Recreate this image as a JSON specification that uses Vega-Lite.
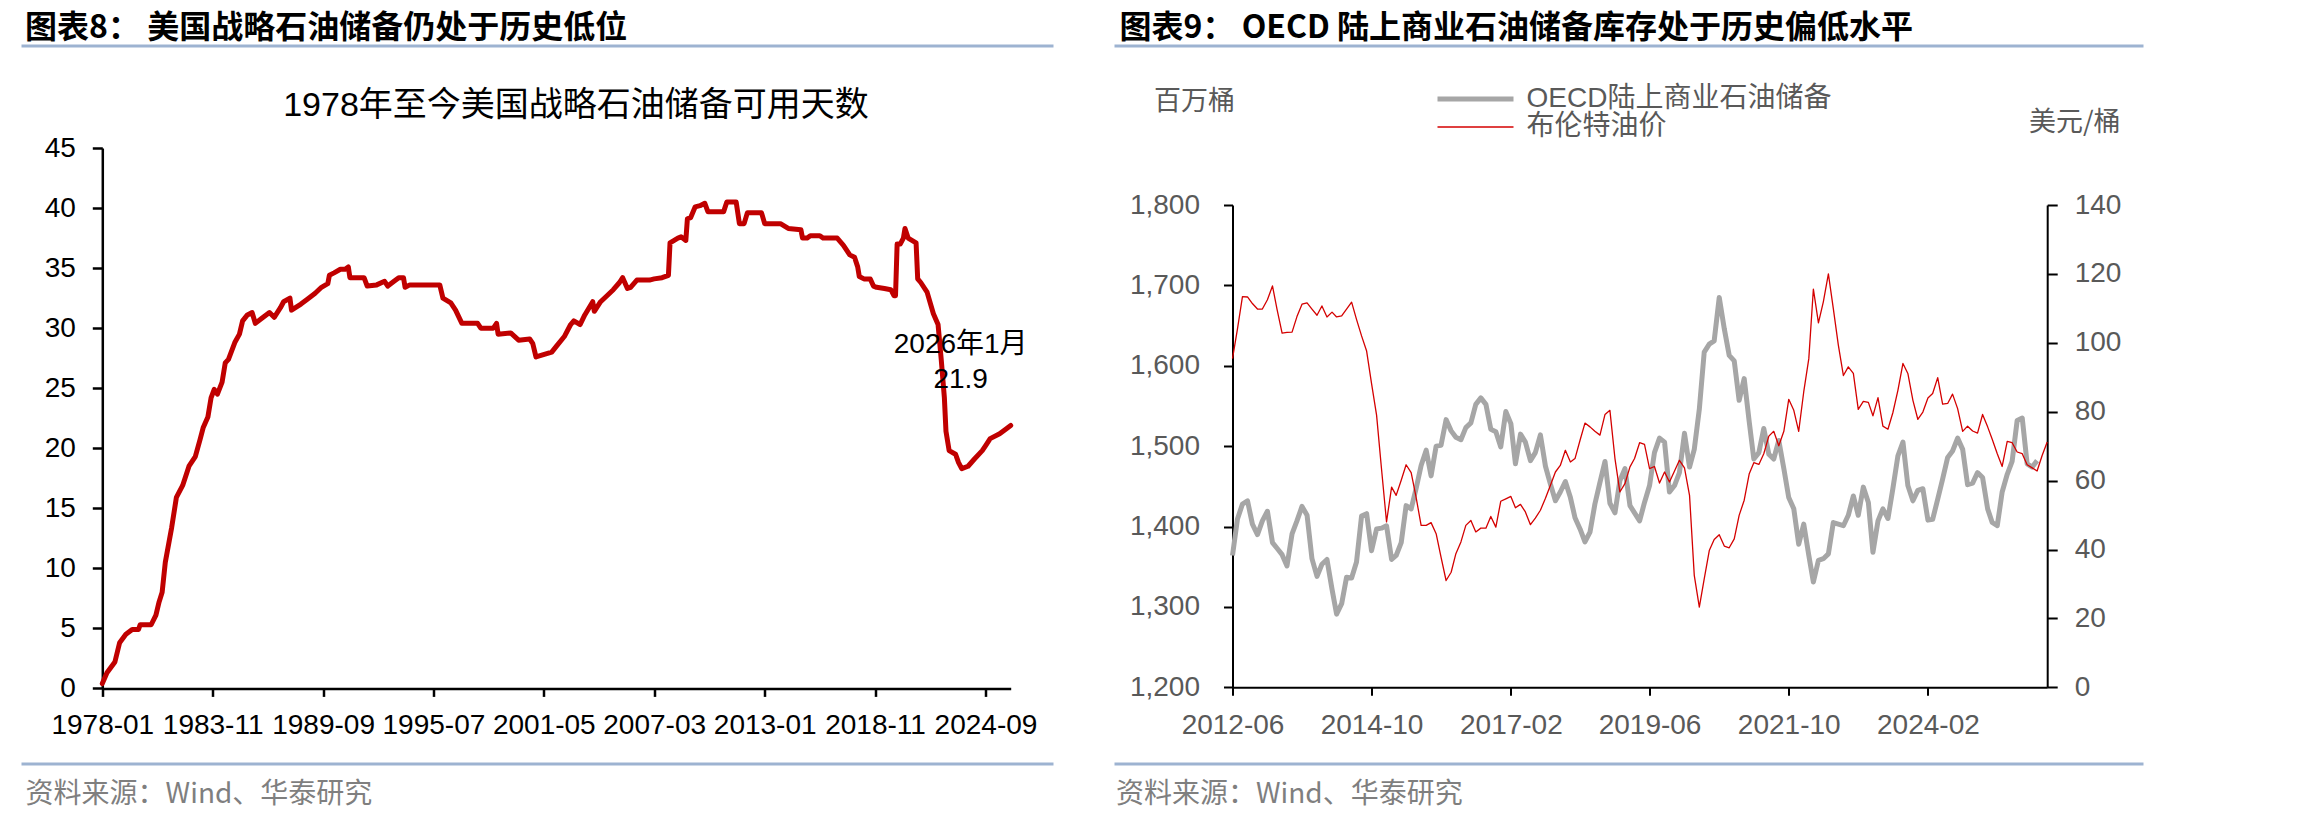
{
  "$schema": "https://vega.github.io/schema/vega-lite/v6.json",
  "background": "white",
  "padding": {"left": 19.5, "top": 10, "right": 5, "bottom": 5},
  "config": {
    "view": {"stroke": null},
    "font": "Liberation Sans, Noto Sans CJK SC, sans-serif",
    "axis": {"grid": false, "domainColor": "#000000", "tickColor": "#000000", "labelFont": "Liberation Sans, Noto Sans CJK SC", "labelFontSize": 28, "titleFontWeight": "normal"}
  },
  "datasets": {
    "spr": [
      {"date":"1978-01","days":0.4},{"date":"1978-04","days":1.3},{"date":"1978-09","days":2.2},{"date":"1978-12","days":3.8},
      {"date":"1979-04","days":4.5},{"date":"1979-08","days":4.9},{"date":"1979-12","days":4.9},{"date":"1980-01","days":5.3},
      {"date":"1980-08","days":5.3},{"date":"1980-11","days":6.1},{"date":"1981-01","days":7.2},{"date":"1981-03","days":8.0},
      {"date":"1981-05","days":10.5},{"date":"1981-09","days":13.4},{"date":"1981-12","days":15.9},{"date":"1982-04","days":16.9},
      {"date":"1982-08","days":18.5},{"date":"1982-12","days":19.3},{"date":"1983-03","days":20.7},{"date":"1983-05","days":21.7},
      {"date":"1983-08","days":22.6},{"date":"1983-10","days":24.2},{"date":"1983-12","days":24.9},{"date":"1984-02","days":24.5},
      {"date":"1984-05","days":25.5},{"date":"1984-07","days":27.1},{"date":"1984-09","days":27.4},{"date":"1985-01","days":28.8},
      {"date":"1985-04","days":29.5},{"date":"1985-06","days":30.6},{"date":"1985-09","days":31.1},{"date":"1985-12","days":31.3},
      {"date":"1986-02","days":30.4},{"date":"1986-06","days":30.8},{"date":"1986-11","days":31.3},{"date":"1987-02","days":30.9},
      {"date":"1987-06","days":31.7},{"date":"1987-08","days":32.2},{"date":"1987-12","days":32.5},{"date":"1988-01","days":31.5},
      {"date":"1988-07","days":32.0},{"date":"1988-11","days":32.4},{"date":"1989-04","days":32.9},{"date":"1989-08","days":33.4},
      {"date":"1989-12","days":33.7},{"date":"1990-01","days":34.4},{"date":"1990-04","days":34.6},{"date":"1990-08","days":34.9},
      {"date":"1990-11","days":34.9},{"date":"1991-01","days":35.1},{"date":"1991-02","days":34.2},{"date":"1991-11","days":34.2},
      {"date":"1992-01","days":33.5},{"date":"1992-07","days":33.6},{"date":"1992-12","days":33.9},{"date":"1993-02","days":33.5},
      {"date":"1993-06","days":33.9},{"date":"1993-09","days":34.2},{"date":"1993-12","days":34.2},{"date":"1994-01","days":33.4},
      {"date":"1994-04","days":33.6},{"date":"1995-11","days":33.6},{"date":"1996-01","days":32.5},{"date":"1996-06","days":32.1},
      {"date":"1996-09","days":31.5},{"date":"1997-01","days":30.4},{"date":"1997-11","days":30.4},{"date":"1998-01","days":30.0},
      {"date":"1998-09","days":30.0},{"date":"1998-11","days":30.4},{"date":"1998-12","days":29.5},{"date":"1999-08","days":29.6},
      {"date":"2000-01","days":29.0},{"date":"2000-08","days":29.1},{"date":"2000-10","days":28.7},{"date":"2000-12","days":27.6},
      {"date":"2001-10","days":28.0},{"date":"2002-01","days":28.5},{"date":"2002-06","days":29.3},{"date":"2002-10","days":30.3},
      {"date":"2002-12","days":30.6},{"date":"2003-04","days":30.3},{"date":"2003-07","days":31.1},{"date":"2003-12","days":32.2},
      {"date":"2004-01","days":31.4},{"date":"2004-05","days":32.2},{"date":"2004-09","days":32.7},{"date":"2005-01","days":33.2},
      {"date":"2005-05","days":33.8},{"date":"2005-07","days":34.2},{"date":"2005-10","days":33.3},{"date":"2005-12","days":33.4},
      {"date":"2006-04","days":34.0},{"date":"2006-12","days":34.0},{"date":"2007-03","days":34.1},{"date":"2007-08","days":34.2},
      {"date":"2007-12","days":34.4},{"date":"2008-01","days":37.1},{"date":"2008-06","days":37.5},{"date":"2008-08","days":37.6},
      {"date":"2008-11","days":37.3},{"date":"2008-12","days":39.1},{"date":"2009-02","days":39.2},{"date":"2009-05","days":40.1},
      {"date":"2009-08","days":40.2},{"date":"2009-11","days":40.4},{"date":"2010-01","days":39.7},{"date":"2010-11","days":39.7},
      {"date":"2011-01","days":40.5},{"date":"2011-07","days":40.5},{"date":"2011-09","days":38.7},{"date":"2011-12","days":38.7},
      {"date":"2012-02","days":39.6},{"date":"2012-11","days":39.6},{"date":"2013-01","days":38.7},{"date":"2013-11","days":38.7},
      {"date":"2014-04","days":38.3},{"date":"2014-12","days":38.2},{"date":"2015-01","days":37.5},{"date":"2015-04","days":37.5},
      {"date":"2015-06","days":37.7},{"date":"2015-12","days":37.7},{"date":"2016-02","days":37.5},{"date":"2016-11","days":37.5},
      {"date":"2017-03","days":36.9},{"date":"2017-07","days":36.1},{"date":"2017-10","days":35.9},{"date":"2017-12","days":35.1},
      {"date":"2018-01","days":34.3},{"date":"2018-04","days":34.1},{"date":"2018-08","days":34.1},{"date":"2018-10","days":33.5},
      {"date":"2018-12","days":33.4},{"date":"2019-05","days":33.3},{"date":"2019-09","days":33.2},{"date":"2019-11","days":32.7},
      {"date":"2019-12","days":32.7},{"date":"2020-01","days":37.0},{"date":"2020-03","days":37.0},{"date":"2020-05","days":37.5},
      {"date":"2020-06","days":38.3},{"date":"2020-08","days":37.5},{"date":"2021-01","days":37.1},{"date":"2021-02","days":34.1},
      {"date":"2021-04","days":33.8},{"date":"2021-08","days":33.0},{"date":"2021-12","days":31.2},{"date":"2022-03","days":30.3},
      {"date":"2022-05","days":27.4},{"date":"2022-07","days":24.2},{"date":"2022-08","days":21.4},{"date":"2022-10","days":19.8},
      {"date":"2023-02","days":19.5},{"date":"2023-04","days":18.8},{"date":"2023-06","days":18.3},{"date":"2023-10","days":18.5},
      {"date":"2024-02","days":19.1},{"date":"2024-07","days":19.8},{"date":"2024-09","days":20.2},{"date":"2024-12","days":20.8},
      {"date":"2025-06","days":21.2},{"date":"2025-09","days":21.5},{"date":"2026-01","days":21.9}
    ],
    "note": [{"date":"2026-01","days":21.9,"label":"2026年1月\n21.9"}],
    "oecd": [
      {"date":"2012-06","value":1364},{"date":"2012-07","value":1409},{"date":"2012-08","value":1428},{"date":"2012-09","value":1432},{"date":"2012-10","value":1403},{"date":"2012-11","value":1390},{"date":"2012-12","value":1407},
      {"date":"2013-01","value":1419},{"date":"2013-02","value":1380},{"date":"2013-03","value":1373},{"date":"2013-04","value":1365},{"date":"2013-05","value":1351},{"date":"2013-06","value":1391},{"date":"2013-07","value":1407},{"date":"2013-08","value":1425},{"date":"2013-09","value":1414},{"date":"2013-10","value":1360},{"date":"2013-11","value":1338},{"date":"2013-12","value":1353},
      {"date":"2014-01","value":1359},{"date":"2014-02","value":1322},{"date":"2014-03","value":1291},{"date":"2014-04","value":1304},{"date":"2014-05","value":1337},{"date":"2014-06","value":1336},{"date":"2014-07","value":1356},{"date":"2014-08","value":1413},{"date":"2014-09","value":1416},{"date":"2014-10","value":1370},{"date":"2014-11","value":1397},{"date":"2014-12","value":1398},
      {"date":"2015-01","value":1401},{"date":"2015-02","value":1359},{"date":"2015-03","value":1364},{"date":"2015-04","value":1380},{"date":"2015-05","value":1426},{"date":"2015-06","value":1422},{"date":"2015-07","value":1447},{"date":"2015-08","value":1476},{"date":"2015-09","value":1495},{"date":"2015-10","value":1463},{"date":"2015-11","value":1500},{"date":"2015-12","value":1501},
      {"date":"2016-01","value":1533},{"date":"2016-02","value":1519},{"date":"2016-03","value":1511},{"date":"2016-04","value":1508},{"date":"2016-05","value":1523},{"date":"2016-06","value":1529},{"date":"2016-07","value":1552},{"date":"2016-08","value":1560},{"date":"2016-09","value":1552},{"date":"2016-10","value":1521},{"date":"2016-11","value":1518},{"date":"2016-12","value":1499},
      {"date":"2017-01","value":1543},{"date":"2017-02","value":1528},{"date":"2017-03","value":1478},{"date":"2017-04","value":1515},{"date":"2017-05","value":1505},{"date":"2017-06","value":1482},{"date":"2017-07","value":1492},{"date":"2017-08","value":1514},{"date":"2017-09","value":1475},{"date":"2017-10","value":1453},{"date":"2017-11","value":1432},{"date":"2017-12","value":1443},
      {"date":"2018-01","value":1456},{"date":"2018-02","value":1436},{"date":"2018-03","value":1411},{"date":"2018-04","value":1397},{"date":"2018-05","value":1381},{"date":"2018-06","value":1393},{"date":"2018-07","value":1428},{"date":"2018-08","value":1455},{"date":"2018-09","value":1481},{"date":"2018-10","value":1429},{"date":"2018-11","value":1417},{"date":"2018-12","value":1457},
      {"date":"2019-01","value":1472},{"date":"2019-02","value":1426},{"date":"2019-03","value":1417},{"date":"2019-04","value":1407},{"date":"2019-05","value":1430},{"date":"2019-06","value":1451},{"date":"2019-07","value":1492},{"date":"2019-08","value":1510},{"date":"2019-09","value":1505},{"date":"2019-10","value":1443},{"date":"2019-11","value":1451},{"date":"2019-12","value":1467},
      {"date":"2020-01","value":1516},{"date":"2020-02","value":1474},{"date":"2020-03","value":1496},{"date":"2020-04","value":1546},{"date":"2020-05","value":1617},{"date":"2020-06","value":1627},{"date":"2020-07","value":1631},{"date":"2020-08","value":1685},{"date":"2020-09","value":1646},{"date":"2020-10","value":1613},{"date":"2020-11","value":1606},{"date":"2020-12","value":1557},
      {"date":"2021-01","value":1584},{"date":"2021-02","value":1530},{"date":"2021-03","value":1484},{"date":"2021-04","value":1492},{"date":"2021-05","value":1522},{"date":"2021-06","value":1490},{"date":"2021-07","value":1484},{"date":"2021-08","value":1507},{"date":"2021-09","value":1472},{"date":"2021-10","value":1436},{"date":"2021-11","value":1422},{"date":"2021-12","value":1378},
      {"date":"2022-01","value":1403},{"date":"2022-02","value":1364},{"date":"2022-03","value":1331},{"date":"2022-04","value":1358},{"date":"2022-05","value":1360},{"date":"2022-06","value":1366},{"date":"2022-07","value":1405},{"date":"2022-08","value":1403},{"date":"2022-09","value":1401},{"date":"2022-10","value":1414},{"date":"2022-11","value":1438},{"date":"2022-12","value":1414},
      {"date":"2023-01","value":1449},{"date":"2023-02","value":1430},{"date":"2023-03","value":1368},{"date":"2023-04","value":1407},{"date":"2023-05","value":1422},{"date":"2023-06","value":1410},{"date":"2023-07","value":1447},{"date":"2023-08","value":1488},{"date":"2023-09","value":1505},{"date":"2023-10","value":1451},{"date":"2023-11","value":1432},{"date":"2023-12","value":1445},
      {"date":"2024-01","value":1447},{"date":"2024-02","value":1408},{"date":"2024-03","value":1409},{"date":"2024-04","value":1434},{"date":"2024-05","value":1459},{"date":"2024-06","value":1486},{"date":"2024-07","value":1494},{"date":"2024-08","value":1510},{"date":"2024-09","value":1496},{"date":"2024-10","value":1452},{"date":"2024-11","value":1454},{"date":"2024-12","value":1467},
      {"date":"2025-01","value":1461},{"date":"2025-02","value":1422},{"date":"2025-03","value":1405},{"date":"2025-04","value":1401},{"date":"2025-05","value":1443},{"date":"2025-06","value":1465},{"date":"2025-07","value":1481},{"date":"2025-08","value":1532},{"date":"2025-09","value":1535},{"date":"2025-10","value":1478},{"date":"2025-11","value":1474},{"date":"2025-12","value":1482}
    ],
    "brent": [
      {"date":"2012-06","value":95.4},{"date":"2012-07","value":103.9},{"date":"2012-08","value":113.4},{"date":"2012-09","value":113.3},{"date":"2012-10","value":111.4},{"date":"2012-11","value":109.8},{"date":"2012-12","value":109.8},
      {"date":"2013-01","value":112.5},{"date":"2013-02","value":116.5},{"date":"2013-03","value":109.7},{"date":"2013-04","value":102.8},{"date":"2013-05","value":103.0},{"date":"2013-06","value":103.1},{"date":"2013-07","value":107.6},{"date":"2013-08","value":111.2},{"date":"2013-09","value":111.6},{"date":"2013-10","value":109.8},{"date":"2013-11","value":108.0},{"date":"2013-12","value":110.7},
      {"date":"2014-01","value":107.5},{"date":"2014-02","value":108.9},{"date":"2014-03","value":107.5},{"date":"2014-04","value":107.8},{"date":"2014-05","value":109.8},{"date":"2014-06","value":111.8},{"date":"2014-07","value":106.8},{"date":"2014-08","value":102.0},{"date":"2014-09","value":97.6},{"date":"2014-10","value":88.2},{"date":"2014-11","value":79.0},{"date":"2014-12","value":63.5},
      {"date":"2015-01","value":48.0},{"date":"2015-02","value":58.1},{"date":"2015-03","value":55.7},{"date":"2015-04","value":60.1},{"date":"2015-05","value":64.6},{"date":"2015-06","value":62.3},{"date":"2015-07","value":55.2},{"date":"2015-08","value":47.0},{"date":"2015-09","value":47.0},{"date":"2015-10","value":47.8},{"date":"2015-11","value":44.6},{"date":"2015-12","value":37.8},
      {"date":"2016-01","value":31.0},{"date":"2016-02","value":33.4},{"date":"2016-03","value":38.8},{"date":"2016-04","value":42.2},{"date":"2016-05","value":47.0},{"date":"2016-06","value":48.4},{"date":"2016-07","value":45.1},{"date":"2016-08","value":46.2},{"date":"2016-09","value":46.2},{"date":"2016-10","value":49.6},{"date":"2016-11","value":46.5},{"date":"2016-12","value":54.0},
      {"date":"2017-01","value":54.7},{"date":"2017-02","value":55.4},{"date":"2017-03","value":52.1},{"date":"2017-04","value":53.1},{"date":"2017-05","value":50.9},{"date":"2017-06","value":47.2},{"date":"2017-07","value":49.1},{"date":"2017-08","value":51.4},{"date":"2017-09","value":54.9},{"date":"2017-10","value":58.6},{"date":"2017-11","value":62.5},{"date":"2017-12","value":64.4},
      {"date":"2018-01","value":68.8},{"date":"2018-02","value":65.4},{"date":"2018-03","value":66.4},{"date":"2018-04","value":71.7},{"date":"2018-05","value":76.7},{"date":"2018-06","value":75.6},{"date":"2018-07","value":74.3},{"date":"2018-08","value":73.2},{"date":"2018-09","value":79.2},{"date":"2018-10","value":80.4},{"date":"2018-11","value":66.4},{"date":"2018-12","value":56.7},
      {"date":"2019-01","value":59.1},{"date":"2019-02","value":64.0},{"date":"2019-03","value":66.4},{"date":"2019-04","value":71.0},{"date":"2019-05","value":70.5},{"date":"2019-06","value":63.5},{"date":"2019-07","value":64.1},{"date":"2019-08","value":59.3},{"date":"2019-09","value":62.5},{"date":"2019-10","value":59.6},{"date":"2019-11","value":62.8},{"date":"2019-12","value":65.9},
      {"date":"2020-01","value":63.7},{"date":"2020-02","value":55.7},{"date":"2020-03","value":32.5},{"date":"2020-04","value":23.3},{"date":"2020-05","value":31.5},{"date":"2020-06","value":39.7},{"date":"2020-07","value":42.9},{"date":"2020-08","value":44.3},{"date":"2020-09","value":41.0},{"date":"2020-10","value":40.5},{"date":"2020-11","value":43.1},{"date":"2020-12","value":49.9},
      {"date":"2021-01","value":54.3},{"date":"2021-02","value":62.0},{"date":"2021-03","value":65.2},{"date":"2021-04","value":64.7},{"date":"2021-05","value":67.8},{"date":"2021-06","value":72.9},{"date":"2021-07","value":74.3},{"date":"2021-08","value":70.1},{"date":"2021-09","value":74.3},{"date":"2021-10","value":83.6},{"date":"2021-11","value":80.4},{"date":"2021-12","value":74.3},
      {"date":"2022-01","value":85.8},{"date":"2022-02","value":95.4},{"date":"2022-03","value":115.6},{"date":"2022-04","value":105.8},{"date":"2022-05","value":111.9},{"date":"2022-06","value":120.0},{"date":"2022-07","value":110.0},{"date":"2022-08","value":99.3},{"date":"2022-09","value":90.5},{"date":"2022-10","value":93.0},{"date":"2022-11","value":91.1},{"date":"2022-12","value":80.7},
      {"date":"2023-01","value":83.0},{"date":"2023-02","value":82.7},{"date":"2023-03","value":78.8},{"date":"2023-04","value":84.1},{"date":"2023-05","value":75.8},{"date":"2023-06","value":74.9},{"date":"2023-07","value":79.7},{"date":"2023-08","value":86.2},{"date":"2023-09","value":94.0},{"date":"2023-10","value":91.1},{"date":"2023-11","value":83.3},{"date":"2023-12","value":77.8},
      {"date":"2024-01","value":79.9},{"date":"2024-02","value":84.0},{"date":"2024-03","value":85.3},{"date":"2024-04","value":89.9},{"date":"2024-05","value":82.2},{"date":"2024-06","value":82.4},{"date":"2024-07","value":85.1},{"date":"2024-08","value":80.9},{"date":"2024-09","value":74.3},{"date":"2024-10","value":75.8},{"date":"2024-11","value":74.4},{"date":"2024-12","value":73.8},
      {"date":"2025-01","value":79.2},{"date":"2025-02","value":75.6},{"date":"2025-03","value":72.0},{"date":"2025-04","value":67.8},{"date":"2025-05","value":64.1},{"date":"2025-06","value":71.4},{"date":"2025-07","value":71.0},{"date":"2025-08","value":68.3},{"date":"2025-09","value":67.8},{"date":"2025-10","value":64.6},{"date":"2025-11","value":63.7},{"date":"2025-12","value":62.8},
      {"date":"2026-01","value":67.3},{"date":"2026-02","value":71.2}
    ]
  },
  "bounds": "flush",
  "spacing": 61,
  "resolve": {"scale": {"color": "independent"}, "legend": {"color": "independent"}},
  "hconcat": [
    {
      "width": 1032, "height": 718,
      "view": {"stroke": "#9DB3D1", "strokeWidth": 3, "strokeDash": [1032, 718]},
      "title": {"text": "图表8：  美国战略石油储备仍处于历史低位", "orient": "top", "anchor": "start", "frame": "group", "offset": -14.4, "baseline": "middle", "dx": 3.6, "fontSize": 32, "fontWeight": "bold", "font": "Noto Sans CJK SC", "color": "#000000"},
      "layer": [
        {
          "data": {"name": "spr"},
          "mark": {"type": "line", "color": "#C00000", "strokeWidth": 5, "strokeJoin": "round", "strokeCap": "round"},
          "encoding": {
            "x": {"field": "date", "type": "temporal",
              "scale": {"type": "utc", "range": [80.8, 989.2], "domain": [{"year": 1978, "month": 1, "date": 1, "utc": true}, {"year": 2026, "month": 1, "date": 1, "utc": true}]},
              "axis": {"offset": -75.6, "format": "%Y-%m", "labelColor": "#000000", "labelFontSize": 28, "tickSize": 8, "labelPadding": 15, "domainWidth": 2.5, "tickWidth": 2.5, "labelOverlap": false, "labelFlush": false, "labelBound": false,
                "values": [{"year":1978,"month":1,"date":1,"utc":true},{"year":1983,"month":11,"date":1,"utc":true},{"year":1989,"month":9,"date":1,"utc":true},{"year":1995,"month":7,"date":1,"utc":true},{"year":2001,"month":5,"date":1,"utc":true},{"year":2007,"month":3,"date":1,"utc":true},{"year":2013,"month":1,"date":1,"utc":true},{"year":2018,"month":11,"date":1,"utc":true},{"year":2024,"month":9,"date":1,"utc":true}],
                "title": "资料来源：Wind、华泰研究", "titleX": 3.6, "titleY": 105.6, "titleAlign": "left", "titleBaseline": "middle", "titleFontSize": 28, "titleColor": "#7F7F7F", "titleFont": "Noto Sans CJK SC", "titleFontWeight": "normal"}},
            "y": {"field": "days", "type": "quantitative", "scale": {"domain": [0, 45], "nice": false, "range": [642.4, 102]},
              "axis": {"offset": -80.8, "values": [0,5,10,15,20,25,30,35,40,45], "labelColor": "#000000", "labelFontSize": 28, "tickSize": 10, "labelPadding": 17, "domainWidth": 2.5, "tickWidth": 2.5,
                "title": "1978年至今美国战略石油储备可用天数", "titleAngle": 0, "titleX": 473.2, "titleY": 59, "titleAlign": "center", "titleBaseline": "middle", "titleFontSize": 34, "titleColor": "#000000", "titleFont": "Liberation Sans, Noto Sans CJK SC", "titleFontWeight": "normal"}}
          }
        },
        {
          "data": {"name": "note"},
          "mark": {"type": "text", "lineBreak": "\n", "lineHeight": 35, "fontSize": 28, "dx": -50, "dy": -80, "baseline": "middle", "align": "center", "color": "#000000", "font": "Liberation Sans, Noto Sans CJK SC"},
          "encoding": {
            "x": {"field": "date", "type": "temporal"},
            "y": {"field": "days", "type": "quantitative"},
            "text": {"field": "label"}
          }
        }
      ]
    },
    {
      "width": 1029, "height": 718,
      "view": {"stroke": "#9DB3D1", "strokeWidth": 3, "strokeDash": [1029, 718]},
      "title": {"text": "图表9：  OECD 陆上商业石油储备库存处于历史偏低水平", "orient": "top", "anchor": "start", "frame": "group", "offset": -14.4, "baseline": "middle", "dx": 5, "fontSize": 32, "fontWeight": "bold", "font": "Noto Sans CJK SC", "color": "#000000"},
      "layer": [
        {
          "data": {"name": "oecd"},
          "mark": {"type": "line", "strokeWidth": 5, "strokeJoin": "round"},
          "encoding": {
            "x": {"field": "date", "type": "temporal",
              "scale": {"type": "utc", "range": [118, 932.7], "domain": [{"year": 2012, "month": 6, "date": 1, "utc": true}, {"year": 2026, "month": 2, "date": 1, "utc": true}]},
              "axis": {"offset": -76.7, "format": "%Y-%m", "labelColor": "#595959", "labelFontSize": 28, "tickSize": 8, "labelPadding": 16, "domainWidth": 2, "tickWidth": 2, "labelOverlap": false, "labelFlush": false, "labelBound": false,
                "values": [{"year":2012,"month":6,"date":1,"utc":true},{"year":2014,"month":10,"date":1,"utc":true},{"year":2017,"month":2,"date":1,"utc":true},{"year":2019,"month":6,"date":1,"utc":true},{"year":2021,"month":10,"date":1,"utc":true},{"year":2024,"month":2,"date":1,"utc":true}],
                "title": "资料来源：Wind、华泰研究", "titleX": 1, "titleY": 106.7, "titleAlign": "left", "titleBaseline": "middle", "titleFontSize": 28, "titleColor": "#7F7F7F", "titleFont": "Noto Sans CJK SC", "titleFontWeight": "normal"}},
            "y": {"field": "value", "type": "quantitative", "scale": {"domain": [1200, 1800], "nice": false, "range": [641.3, 159]},
              "axis": {"orient": "left", "offset": -118, "values": [1200,1300,1400,1500,1600,1700,1800], "format": ",.0f", "labelColor": "#595959", "labelFontSize": 28, "tickSize": 9, "labelPadding": 24, "domainWidth": 2, "tickWidth": 2,
                "title": "百万桶", "titleAngle": 0, "titleAlign": "left", "titleBaseline": "middle", "titleX": -79, "titleY": 55, "titleFontSize": 27, "titleColor": "#595959", "titleFont": "Noto Sans CJK SC", "titleFontWeight": "normal"}},
            "color": {"datum": "OECD陆上商业石油储备", "type": "nominal",
              "scale": {"domain": ["OECD陆上商业石油储备", "布伦特油价"], "range": ["#A6A6A6", "#D40000"]},
              "legend": {"title": null, "orient": "none", "legendX": 322, "legendY": 39, "symbolType": "M-3.8,0H3.8", "symbolSize": 400, "symbolOffset": 25, "clipHeight": 28, "rowPadding": 0, "padding": 0, "labelOffset": 37, "labelLimit": 800, "labelFontSize": 28, "labelColor": "#595959", "labelFont": "Liberation Sans, Noto Sans CJK SC",
                "encode": {"symbols": {"update": {"fill": {"value": "transparent"}, "strokeWidth": {"signal": "datum.value === '布伦特油价' ? 1.3 : 5"}}}}}}
          }
        },
        {
          "data": {"name": "brent"},
          "mark": {"type": "line", "strokeWidth": 1.3, "strokeJoin": "round"},
          "encoding": {
            "x": {"field": "date", "type": "temporal"},
            "y": {"field": "value", "type": "quantitative", "scale": {"domain": [0, 140], "nice": false, "range": [641.3, 159]},
              "axis": {"orient": "right", "offset": -96.3, "values": [0,20,40,60,80,100,120,140], "labelColor": "#595959", "labelFontSize": 28, "tickSize": 10, "labelPadding": 17, "domainWidth": 2, "tickWidth": 2,
                "title": "美元/桶", "titleAngle": 0, "titleAlign": "left", "titleBaseline": "middle", "titleX": -18.7, "titleY": 76, "titleFontSize": 27, "titleColor": "#595959", "titleFont": "Noto Sans CJK SC", "titleFontWeight": "normal"}},
            "color": {"datum": "布伦特油价", "type": "nominal"}
          }
        }
      ],
      "resolve": {"scale": {"y": "independent"}}
    }
  ]
}
